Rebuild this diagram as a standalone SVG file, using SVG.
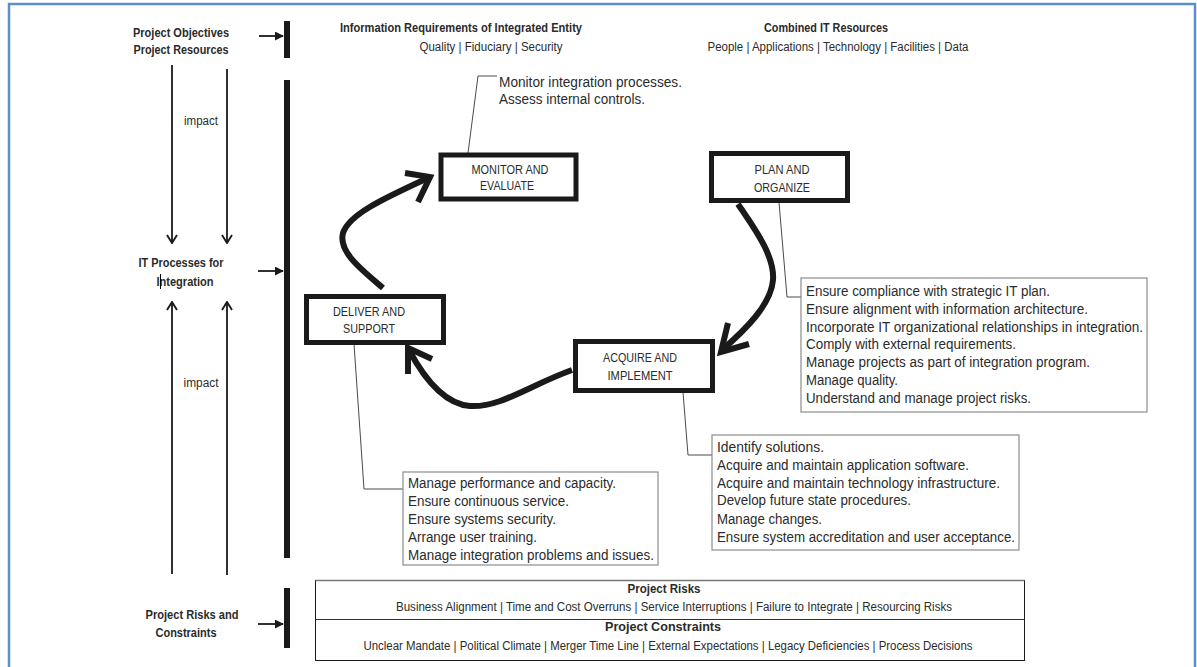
<svg xmlns="http://www.w3.org/2000/svg" width="1197" height="667" viewBox="0 0 1197 667">
  <style>
    text { font-family: "Liberation Sans Narrow", "Liberation Sans", Arial, sans-serif; fill: #2b2b2b; }
    .hd { font-size: 12.5px; font-weight: bold; }
    .sm { font-size: 12px; }
    .lbl { font-size: 13px; }
    .lst { font-size: 14px; }
    .box { fill: #fff; stroke: #1a1a1a; stroke-width: 5; }
    .note { fill: #fff; stroke: #8c8c8c; stroke-width: 1.2; }
    .leader { fill: none; stroke: #4a4a4a; stroke-width: 1; }
    .bar { fill: #1a1a1a; }
    .thin { fill: none; stroke: #1a1a1a; stroke-width: 1.8; }
    .flow { fill: none; stroke: #1a1a1a; stroke-width: 6; stroke-linecap: butt; stroke-linejoin: miter; }
  </style>
  <defs>
    <marker id="solid" viewBox="0 0 10 10" refX="9" refY="5" markerWidth="9" markerHeight="9" markerUnits="userSpaceOnUse" orient="auto">
      <path d="M0,0 L10,5 L0,10 z" fill="#1a1a1a"/>
    </marker>
    <marker id="open" viewBox="0 0 12 12" refX="11" refY="6" markerWidth="12" markerHeight="12" markerUnits="userSpaceOnUse" orient="auto">
      <path d="M3,1 L11,6 L3,11" fill="none" stroke="#1a1a1a" stroke-width="1.9"/>
    </marker>
  </defs>

  <rect width="1197" height="667" fill="#fff"/>
  <!-- page frame -->
  <rect x="9" y="4" width="1186" height="700" fill="none" stroke="#5b8fd0" stroke-width="2.5"/>

  <!-- left-hand inputs -->
  <g id="objectives">
    <text class="hd" x="181" y="37" text-anchor="middle" textLength="96" lengthAdjust="spacingAndGlyphs">Project Objectives</text>
    <text class="hd" x="181" y="54" text-anchor="middle" textLength="95" lengthAdjust="spacingAndGlyphs">Project Resources</text>
  </g>
  <g id="it-processes">
    <text class="hd" x="181" y="267" text-anchor="middle" textLength="85" lengthAdjust="spacingAndGlyphs">IT Processes for</text>
    <text class="hd" x="185" y="286" text-anchor="middle" textLength="57" lengthAdjust="spacingAndGlyphs">Integration</text>
    <line x1="160.5" y1="274" x2="160.5" y2="289" stroke="#000" stroke-width="1"/>
  </g>
  <g id="risks-constraints">
    <text class="hd" x="192" y="619" text-anchor="middle" textLength="93" lengthAdjust="spacingAndGlyphs">Project Risks and</text>
    <text class="hd" x="186" y="637" text-anchor="middle" textLength="61" lengthAdjust="spacingAndGlyphs">Constraints</text>
  </g>

  <!-- top headers -->
  <g id="info-requirements">
    <text class="hd" x="461" y="32" text-anchor="middle" textLength="242" lengthAdjust="spacingAndGlyphs">Information Requirements of Integrated Entity</text>
    <text class="sm" x="491" y="51" text-anchor="middle" textLength="143" lengthAdjust="spacingAndGlyphs">Quality | Fiduciary | Security</text>
  </g>
  <g id="it-resources">
    <text class="hd" x="826" y="32" text-anchor="middle" textLength="124" lengthAdjust="spacingAndGlyphs">Combined IT Resources</text>
    <text class="sm" x="838" y="51" text-anchor="middle" textLength="261" lengthAdjust="spacingAndGlyphs">People | Applications | Technology | Facilities | Data</text>
  </g>

  <!-- bars -->
  <g id="bars">
    <rect class="bar" x="284" y="21" width="6" height="37"/>
    <rect class="bar" x="284" y="80" width="6" height="478"/>
    <rect class="bar" x="284" y="588" width="6" height="60"/>
  </g>

  <!-- connectors -->
  <g id="connectors">
    <line class="thin" x1="259" y1="36" x2="283" y2="36" stroke-width="2.2" marker-end="url(#solid)"/>
    <line class="thin" x1="258" y1="271" x2="283" y2="271" stroke-width="2.2" marker-end="url(#solid)"/>
    <line class="thin" x1="258" y1="624" x2="283" y2="624" stroke-width="2.2" marker-end="url(#solid)"/>

    <line class="thin" x1="172" y1="65" x2="172" y2="243" marker-end="url(#open)"/>
    <line class="thin" x1="227" y1="69" x2="227" y2="243" marker-end="url(#open)"/>
    <line class="thin" x1="172" y1="574" x2="172" y2="302" marker-end="url(#open)"/>
    <line class="thin" x1="227" y1="575" x2="227" y2="302" marker-end="url(#open)"/>

    <!-- process cycle -->
    <path class="flow" d="M383,288 C362,270 338,252 343,233 C349,215 380,200 428,178"/>
    <path class="flow" d="M405,173 L430,177 L418,202"/>
    <path class="flow" d="M738,204 C752,225 775,255 773,280 C771,305 745,330 721,351"/>
    <path class="flow" d="M728,323 L721,352 L749,344"/>
    <path class="flow" d="M572,370 C530,385 500,408 470,406 C445,404 425,380 409,350"/>
    <path class="flow" d="M408,374 L408,348 L432,359"/>

    <!-- note leaders -->
    <path class="leader" d="M497,76 L478,76 L468,153"/>
    <path class="leader" d="M779,202 L787,297 L801,297"/>
    <path class="leader" d="M683,392 L688,455 L712,455"/>
    <path class="leader" d="M354,344 L364,489 L403,489"/>
  </g>

  <text class="sm" x="201" y="125" text-anchor="middle" textLength="34" lengthAdjust="spacingAndGlyphs">impact</text>
  <text class="sm" x="201" y="387" text-anchor="middle" textLength="35" lengthAdjust="spacingAndGlyphs">impact</text>

  <!-- process nodes -->
  <g id="monitor-evaluate">
    <rect class="box" x="441" y="155" width="135" height="44"/>
    <text class="lbl" x="510" y="174" text-anchor="middle" textLength="77" lengthAdjust="spacingAndGlyphs">MONITOR AND</text>
    <text class="lbl" x="507" y="190" text-anchor="middle" textLength="54" lengthAdjust="spacingAndGlyphs">EVALUATE</text>
  </g>
  <g id="plan-organize">
    <rect class="box" x="711.5" y="153.5" width="136" height="47"/>
    <text class="lbl" x="782" y="174" text-anchor="middle" textLength="55" lengthAdjust="spacingAndGlyphs">PLAN AND</text>
    <text class="lbl" x="782" y="192" text-anchor="middle" textLength="56" lengthAdjust="spacingAndGlyphs">ORGANIZE</text>
  </g>
  <g id="deliver-support">
    <rect class="box" x="306.5" y="296.5" width="137" height="46"/>
    <text class="lbl" x="369" y="316" text-anchor="middle" textLength="72" lengthAdjust="spacingAndGlyphs">DELIVER AND</text>
    <text class="lbl" x="369" y="333" text-anchor="middle" textLength="52" lengthAdjust="spacingAndGlyphs">SUPPORT</text>
  </g>
  <g id="acquire-implement">
    <rect class="box" x="575.5" y="341.5" width="137" height="49"/>
    <text class="lbl" x="640" y="362" text-anchor="middle" textLength="74" lengthAdjust="spacingAndGlyphs">ACQUIRE AND</text>
    <text class="lbl" x="640" y="380" text-anchor="middle" textLength="65" lengthAdjust="spacingAndGlyphs">IMPLEMENT</text>
  </g>

  <!-- notes -->
  <g id="monitor-note">
    <text class="lst" x="499" y="87" textLength="183" lengthAdjust="spacingAndGlyphs">Monitor integration processes.</text>
    <text class="lst" x="499" y="104" textLength="146" lengthAdjust="spacingAndGlyphs">Assess internal controls.</text>
  </g>
  <g id="plan-note">
    <rect class="note" x="801" y="278" width="346" height="134"/>
    <text class="lst" x="806" y="296" textLength="244" lengthAdjust="spacingAndGlyphs">Ensure compliance with strategic IT plan.</text>
    <text class="lst" x="806" y="314" textLength="282" lengthAdjust="spacingAndGlyphs">Ensure alignment with information architecture.</text>
    <text class="lst" x="806" y="332" textLength="337" lengthAdjust="spacingAndGlyphs">Incorporate IT organizational relationships in integration.</text>
    <text class="lst" x="806" y="349" textLength="210" lengthAdjust="spacingAndGlyphs">Comply with external requirements.</text>
    <text class="lst" x="806" y="367" textLength="284" lengthAdjust="spacingAndGlyphs">Manage projects as part of integration program.</text>
    <text class="lst" x="806" y="385" textLength="92" lengthAdjust="spacingAndGlyphs">Manage quality.</text>
    <text class="lst" x="806" y="403" textLength="225" lengthAdjust="spacingAndGlyphs">Understand and manage project risks.</text>
  </g>
  <g id="acquire-note">
    <rect class="note" x="712" y="435" width="307" height="115"/>
    <text class="lst" x="717" y="452" textLength="107" lengthAdjust="spacingAndGlyphs">Identify solutions.</text>
    <text class="lst" x="717" y="470" textLength="252" lengthAdjust="spacingAndGlyphs">Acquire and maintain application software.</text>
    <text class="lst" x="717" y="488" textLength="283" lengthAdjust="spacingAndGlyphs">Acquire and maintain technology infrastructure.</text>
    <text class="lst" x="717" y="505" textLength="194" lengthAdjust="spacingAndGlyphs">Develop future state procedures.</text>
    <text class="lst" x="717" y="524" textLength="105" lengthAdjust="spacingAndGlyphs">Manage changes.</text>
    <text class="lst" x="717" y="542" textLength="298" lengthAdjust="spacingAndGlyphs">Ensure system accreditation and user acceptance.</text>
  </g>
  <g id="deliver-note">
    <rect class="note" x="403" y="472" width="255" height="93"/>
    <text class="lst" x="408" y="488" textLength="208" lengthAdjust="spacingAndGlyphs">Manage performance and capacity.</text>
    <text class="lst" x="408" y="506" textLength="161" lengthAdjust="spacingAndGlyphs">Ensure continuous service.</text>
    <text class="lst" x="408" y="524" textLength="148" lengthAdjust="spacingAndGlyphs">Ensure systems security.</text>
    <text class="lst" x="408" y="542" textLength="129" lengthAdjust="spacingAndGlyphs">Arrange user training.</text>
    <text class="lst" x="408" y="560" textLength="246" lengthAdjust="spacingAndGlyphs">Manage integration problems and issues.</text>
  </g>

  <!-- risks and constraints table -->
  <g id="risk-table">
    <rect x="315.5" y="580.5" width="709" height="80" fill="#fff" stroke="#1a1a1a" stroke-width="1"/>
    <line x1="315.5" y1="580.5" x2="1024.5" y2="580.5" stroke="#777" stroke-width="1.5"/>
    <line x1="315.5" y1="619.5" x2="1024.5" y2="619.5" stroke="#333" stroke-width="1"/>
    <text class="hd" x="664" y="593" text-anchor="middle" textLength="73" lengthAdjust="spacingAndGlyphs">Project Risks</text>
    <text class="sm" x="674" y="611" text-anchor="middle" textLength="556" lengthAdjust="spacingAndGlyphs">Business Alignment | Time and Cost Overruns | Service Interruptions | Failure to Integrate | Resourcing Risks</text>
    <text class="hd" x="663" y="631" text-anchor="middle" textLength="116" lengthAdjust="spacingAndGlyphs">Project Constraints</text>
    <text class="sm" x="668" y="650" text-anchor="middle" textLength="609" lengthAdjust="spacingAndGlyphs">Unclear Mandate | Political Climate | Merger Time Line | External Expectations | Legacy Deficiencies | Process Decisions</text>
  </g>
</svg>
